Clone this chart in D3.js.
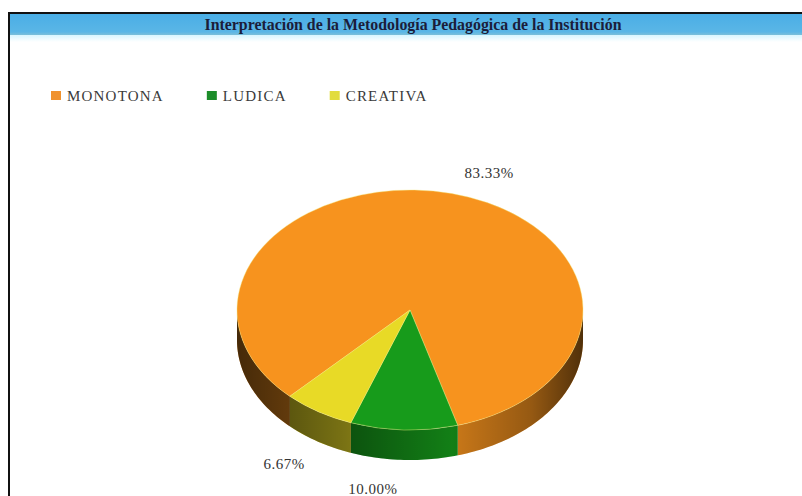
<!DOCTYPE html>
<html>
<head>
<meta charset="utf-8">
<script src="https://cdn.jsdelivr.net/npm/d3@7"></script>
<style>
  html, body { margin: 0; padding: 0; background: #fff; }
  svg { display: block; }
</style>
</head>
<body>
<svg id="chart" width="802" height="496"></svg>
<script>
// Chart content
const chartTitle = "Interpretación de la Metodología Pedagógica de la Institución";
const categories = ["MONOTONA", "LUDICA", "CREATIVA"];
const shares = [83.33, 10.00, 6.67];
const valueLabels = ["83.33%", "10.00%", "6.67%"];

// Styling
const topColors = ["#f7931e", "#179b1b", "#e8da26"];
const legendColors = ["#f0922e", "#1c8d2a", "#e2dc3e"];
const serif = "'Liberation Serif', 'Times New Roman', serif";

const W = 802, H = 496;
const svg = d3.select("#chart");
const defs = svg.append("defs");

// Frame and title band
const band = defs.append("linearGradient").attr("id", "band")
  .attr("x1", 0).attr("y1", 0).attr("x2", 0).attr("y2", 1);
band.append("stop").attr("offset", 0).attr("stop-color", "#4aaee6");
band.append("stop").attr("offset", 0.85).attr("stop-color", "#5ab6e6");
band.append("stop").attr("offset", 1).attr("stop-color", "#7cbfd9");
const fade = defs.append("linearGradient").attr("id", "fade")
  .attr("x1", 0).attr("y1", 0).attr("x2", 0).attr("y2", 1);
fade.append("stop").attr("offset", 0).attr("stop-color", "#d8f6ff");
fade.append("stop").attr("offset", 1).attr("stop-color", "#ffffff");

svg.append("rect").attr("x", 0).attr("y", 0).attr("width", W).attr("height", H).attr("fill", "#fff");
svg.append("rect").attr("x", 10).attr("y", 14).attr("width", W - 10).attr("height", 21).attr("fill", "url(#band)");
svg.append("rect").attr("x", 10).attr("y", 35).attr("width", W - 10).attr("height", 7).attr("fill", "url(#fade)");
svg.append("rect").attr("x", 8).attr("y", 12).attr("width", W - 8).attr("height", 2).attr("fill", "#111");
svg.append("rect").attr("x", 8).attr("y", 12).attr("width", 2).attr("height", H - 12).attr("fill", "#111");

svg.append("text")
  .attr("x", 413).attr("y", 30)
  .attr("text-anchor", "middle")
  .attr("textLength", 417).attr("lengthAdjust", "spacingAndGlyphs")
  .attr("font-family", serif).attr("font-size", 16).attr("font-weight", "bold")
  .attr("fill", "#1b1d3a")
  .text(chartTitle);

// Legend: items laid out left to right by their measured widths
const legend = svg.append("g").attr("transform", "translate(51,91)");
let lx = 0;
categories.forEach((c, i) => {
  const item = legend.append("g").attr("transform", `translate(${lx},0)`);
  item.append("rect").attr("width", 10).attr("height", 9).attr("fill", legendColors[i]);
  const t = item.append("text").attr("x", 16).attr("y", 10)
    .attr("font-family", serif).attr("font-size", 15).attr("letter-spacing", 1.2)
    .attr("fill", "#3a3a3a")
    .text(c);
  lx += 16 + t.node().getComputedTextLength() + 43;
});

// 3D pie geometry
const cx = 410, cy = 310, rx = 173, ry = 120, depth = 30;
const startAngle = 224 * Math.PI / 180;
const pie = d3.pie().sort(null).value(d => d)
  .startAngle(startAngle).endAngle(startAngle + 2 * Math.PI);
const slices = pie(shares);

const px = t => cx + rx * Math.sin(t);
const py = t => cy - ry * Math.cos(t);

// Outer wall segment between angles t0..t1 (front half only)
function wallPath(t0, t1) {
  const n = Math.max(2, Math.ceil((t1 - t0) / 0.02));
  const top = d3.range(n + 1).map(i => t0 + (t1 - t0) * i / n);
  const p = d3.path();
  top.forEach((t, i) => i ? p.lineTo(px(t), py(t)) : p.moveTo(px(t), py(t)));
  top.slice().reverse().forEach(t => p.lineTo(px(t), py(t) + depth));
  p.closePath();
  return p.toString();
}
function frontPart(a0, a1) {
  const lo = Math.PI / 2, hi = 3 * Math.PI / 2;
  const parts = [];
  for (let k = -1; k <= 1; k++) {
    const s = Math.max(a0 + 2 * Math.PI * k, lo), e = Math.min(a1 + 2 * Math.PI * k, hi);
    if (e > s) parts.push([s, e]);
  }
  return parts;
}

const shade = defs.append("linearGradient").attr("id", "shade")
  .attr("gradientUnits", "userSpaceOnUse")
  .attr("x1", cx - rx).attr("y1", 0).attr("x2", cx + rx).attr("y2", 0);
[[0, 0.7], [0.3, 0.45], [0.62, 0.12], [0.85, 0.35], [1, 0.65]].forEach(([o, a]) =>
  shade.append("stop").attr("offset", o).attr("stop-color", "#000").attr("stop-opacity", a));

const walls = svg.append("g");
slices.forEach((s, i) => {
  frontPart(s.startAngle, s.endAngle).forEach(([t0, t1]) => {
    walls.append("path").attr("d", wallPath(t0, t1))
      .attr("fill", d3.color(topColors[i]).darker(0.2));
  });
});
walls.append("path").attr("d", wallPath(Math.PI / 2, 3 * Math.PI / 2))
  .attr("fill", "url(#shade)");

// Top faces
const arc = d3.arc().innerRadius(0).outerRadius(rx);
svg.append("g")
  .attr("transform", `translate(${cx},${cy}) scale(1,${ry / rx})`)
  .selectAll("path").data(slices).join("path")
  .attr("d", arc)
  .attr("fill", (d, i) => topColors[i])
  .attr("stroke", "#f3e87a").attr("stroke-width", 0.8).attr("stroke-opacity", 0.6);

// Value labels: anchored outside each slice's mid angle, then nudged
const labelRadius = 1.2;
const labelShift = [[29, 8], [-30, 10], [-16, 7]];
const mid = d => (d.startAngle + d.endAngle) / 2;
svg.append("g").selectAll("text").data(slices).join("text")
  .attr("x", (d, i) => cx + rx * labelRadius * Math.sin(mid(d)) + labelShift[i][0])
  .attr("y", (d, i) => {
    const down = Math.cos(mid(d)) < 0 ? depth : 0;
    return cy - ry * labelRadius * Math.cos(mid(d)) + down + labelShift[i][1];
  })
  .attr("text-anchor", "middle")
  .attr("font-family", serif).attr("font-size", 15).attr("letter-spacing", 0.5)
  .attr("fill", "#333")
  .text((d, i) => valueLabels[i]);
</script>
</body>
</html>
